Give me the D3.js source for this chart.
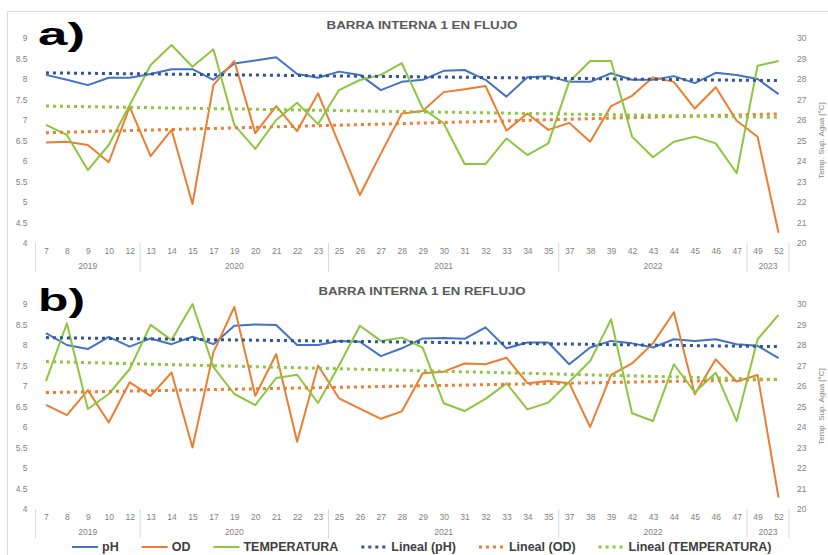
<!DOCTYPE html>
<html><head><meta charset="utf-8">
<script src="https://cdn.jsdelivr.net/npm/d3@7"></script>
<style>
body{margin:0;background:#fff}
svg{display:block;font-family:"Liberation Sans",Arial,sans-serif}
</style>
</head><body>
<svg id="c" width="828" height="555"></svg>
<script>
// ---------- data ----------
const categories = [7,8,9,10,12,13,14,15,17,19,20,21,22,23,25,26,27,28,29,30,31,32,33,34,35,37,38,39,42,43,44,45,46,47,49,52];
const yearLabels = ["2019","2020","2021","2022","2023"];
const yearCounts = [5,9,11,9,2];
const leftTicks = [4,4.5,5,5.5,6,6.5,7,7.5,8,8.5,9];
const rightTicks = [20,21,22,23,24,25,26,27,28,29,30];
const panelTitles = ["BARRA INTERNA 1 EN FLUJO","BARRA INTERNA 1 EN REFLUJO"];
const panelLabels = ["a)","b)"];
const seriesNames = ["pH","OD","TEMPERATURA"];
const trendNames = ["Lineal (pH)","Lineal (OD)","Lineal (TEMPERATURA)"];
const rightAxisTitle = "Temp. Sup. Agua [°C]";

const phFlujo = [8.10,7.98,7.85,8.03,8.03,8.12,8.24,8.24,7.98,8.38,8.45,8.53,8.12,8.03,8.18,8.10,7.73,7.93,7.98,8.20,8.22,7.98,7.57,8.04,8.07,7.93,7.93,8.14,7.98,7.98,8.07,7.90,8.15,8.10,8.00,7.63];
const odFlujo = [6.45,6.47,6.39,5.97,7.32,6.12,6.76,4.95,7.85,8.44,6.68,7.34,6.73,7.65,6.42,5.17,6.18,7.16,7.22,7.68,7.75,7.83,6.74,7.16,6.76,6.93,6.47,7.34,7.59,8.04,7.93,7.28,7.80,6.98,6.59,4.25];
const tempFlujo = [25.76,25.27,23.56,24.78,26.73,28.68,29.66,28.60,29.45,25.76,24.59,26.00,26.84,25.80,27.46,27.95,28.20,28.77,26.57,25.84,23.85,23.85,25.10,24.29,24.86,27.87,28.88,28.88,25.19,24.18,24.94,25.19,24.86,23.40,28.65,28.88];
const phTrendFlujo = [8.15,7.96];
const odTrendFlujo = [6.69,7.15];
const tempTrendFlujo = [26.68,26.13];

const phReflujo = [8.29,8.00,7.90,8.20,7.96,8.16,8.02,8.20,8.02,8.47,8.50,8.49,8.00,8.00,8.10,8.08,7.73,7.92,8.16,8.17,8.15,8.43,7.92,8.06,8.06,7.53,7.94,8.10,8.04,7.94,8.14,8.10,8.14,8.02,7.98,7.68];
const odReflujo = [6.54,6.29,6.90,6.11,7.09,6.76,7.33,5.50,7.82,8.93,6.76,7.78,5.64,7.50,6.70,6.45,6.20,6.38,7.31,7.35,7.55,7.53,7.69,7.07,7.12,7.07,6.00,7.27,7.55,8.04,8.80,6.80,7.65,7.11,7.27,4.28];
const tempReflujo = [26.24,29.06,24.88,25.61,26.83,28.98,28.24,30.00,26.92,25.61,25.07,26.39,26.55,25.17,27.00,28.94,28.20,28.36,27.87,25.16,24.78,25.37,26.13,24.86,25.19,26.21,27.22,29.25,24.67,24.29,27.06,25.69,26.65,24.29,28.28,29.47];
const phTrendReflujo = [8.18,7.96];
const odTrendReflujo = [6.84,7.16];
const tempTrendReflujo = [27.19,26.32];

// ---------- styles ----------
const colors = ["#4472C4","#ED7D31","#8DC63F"];
const trendColors = ["#2F5597","#ED7D31","#8DC63F"];
const tickColor = "#7f7f7f";

const svg = d3.select("#c");
// outer border
svg.append("path").attr("d","M7.5,555V11.5H828").attr("fill","none").attr("stroke","#d9d9d9").attr("stroke-width",1);

const xLeft = 35.5, xRight = 789;
const x = d3.scalePoint().domain(d3.range(categories.length)).range([xLeft, xRight]).padding(0.5);
const step = x.step();

function drawPanel(p){
  const g = svg.append("g");
  const yL = d3.scaleLinear().domain([4,9]).range([p.bottom, p.top]);
  const yR = d3.scaleLinear().domain([20,30]).range([p.bottom, p.top]);

  // left axis
  const ax = g.append("g").attr("transform",`translate(${xLeft},0)`)
    .call(d3.axisLeft(yL).tickValues(leftTicks).tickSize(0).tickPadding(8)
      .tickFormat(v => Number.isInteger(v) ? String(v) : v.toFixed(1)));
  ax.select(".domain").remove();
  ax.selectAll("text").attr("fill",tickColor).style("font-size","8.5px");

  // right axis
  const ar = g.append("g").attr("transform",`translate(${xRight},0)`)
    .call(d3.axisRight(yR).tickValues(rightTicks).tickSize(0).tickPadding(8));
  ar.select(".domain").remove();
  ar.selectAll("text").attr("fill",tickColor).style("font-size","8.5px");

  // right axis title
  g.append("text").attr("transform",`translate(821,${(p.top+p.bottom)/2 - 0})rotate(-90)`)
    .attr("text-anchor","middle").attr("dy","0.35em")
    .attr("fill",tickColor).style("font-size","8px").text(rightAxisTitle);

  // category axis
  const ab = g.append("g").attr("transform",`translate(0,${p.bottom})`)
    .call(d3.axisBottom(x).tickSize(0).tickPadding(5).tickFormat(i => categories[i]));
  ab.select(".domain").remove();
  ab.selectAll("text").attr("fill",tickColor).style("font-size","8.5px");

  // year groups & separators
  let start = 0;
  const bounds = [];
  yearCounts.forEach((n,k) => {
    const x0 = x(start) - step/2, x1 = x(start+n-1) + step/2;
    bounds.push(x0);
    g.append("text").attr("x",(x0+x1)/2).attr("y",p.bottom+23)
      .attr("dy","0.35em").attr("text-anchor","middle")
      .attr("fill",tickColor).style("font-size","8.5px").text(yearLabels[k]);
    start += n;
  });
  bounds.push(x(categories.length-1) + step/2);
  g.selectAll("line.sep").data(bounds).join("line").attr("class","sep")
    .attr("x1",d=>d).attr("x2",d=>d).attr("y1",p.bottom).attr("y2",p.bottom+29)
    .attr("stroke","#d9d9d9").attr("stroke-width",1);

  // series
  const lineL = d3.line().x((d,i)=>x(i)).y(d=>yL(d));
  const lineR = d3.line().x((d,i)=>x(i)).y(d=>yR(d));
  const series = [[p.ph,lineL],[p.od,lineL],[p.temp,lineR]];
  series.forEach(([data,ln],k) => {
    g.append("path").datum(data).attr("d",ln).attr("fill","none")
      .attr("stroke",colors[k]).attr("stroke-width",2).attr("stroke-linejoin","round");
  });

  // trend lines
  const last = categories.length-1;
  const trends = [[p.phT,yL],[p.odT,yL],[p.tempT,yR]];
  trends.forEach(([t,ys],k) => {
    g.append("line").attr("x1",x(0)).attr("x2",x(last))
      .attr("y1",ys(t[0])).attr("y2",ys(t[1]))
      .attr("stroke",trendColors[k]).attr("stroke-width",3).attr("stroke-dasharray","3,4");
  });

  // title
  g.append("text").attr("x",422).attr("y",p.top-9.5).attr("text-anchor","middle")
    .attr("fill","#595959").style("font-size","11px").style("font-weight","bold")
    .attr("textLength",p.titleW).attr("lengthAdjust","spacingAndGlyphs").text(p.title);

  // panel label
  g.append("text").attr("x",38).attr("y",p.top+7).attr("fill","#000")
    .style("font-size","32px").style("font-weight","bold")
    .attr("textLength",47).attr("lengthAdjust","spacingAndGlyphs").text(p.label);
}

drawPanel({top:38,bottom:243,ph:phFlujo,od:odFlujo,temp:tempFlujo,
  phT:phTrendFlujo,odT:odTrendFlujo,tempT:tempTrendFlujo,title:panelTitles[0],titleW:191,label:panelLabels[0]});
drawPanel({top:304,bottom:509,ph:phReflujo,od:odReflujo,temp:tempReflujo,
  phT:phTrendReflujo,odT:odTrendReflujo,tempT:tempTrendReflujo,title:panelTitles[1],titleW:207,label:panelLabels[1]});

// legend
const legend = svg.append("g");
const legendItems = seriesNames.map((n,k)=>({name:n,color:colors[k],dotted:false}))
  .concat(trendNames.map((n,k)=>({name:n,color:trendColors[k],dotted:true})));
let lx = 72;
const ly = 547;
legendItems.forEach(it => {
  legend.append("line").attr("x1",lx).attr("x2",lx+26).attr("y1",ly).attr("y2",ly)
    .attr("stroke",it.color).attr("stroke-width",it.dotted?3:2)
    .attr("stroke-dasharray",it.dotted?"3,4":null);
  const t = legend.append("text").attr("x",lx+30).attr("y",ly).attr("dy","0.35em")
    .attr("fill","#404040").style("font-size","12.5px").style("font-weight","bold").text(it.name);
  lx += 30 + t.node().getComputedTextLength() + 23;
});
</script>
</body></html>
